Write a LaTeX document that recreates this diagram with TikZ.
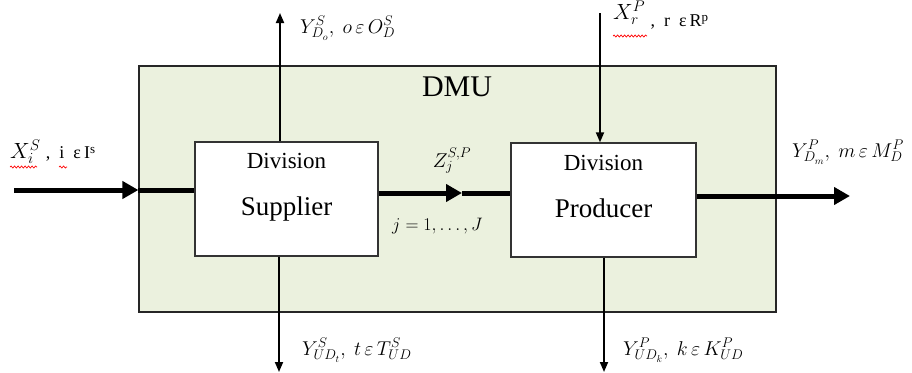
\RequirePackage{fix-cm}
\documentclass[tikz,border=0pt]{standalone}
\usepackage{fontspec}
\setmainfont{Liberation Serif}
\usetikzlibrary{arrows.meta,decorations.pathmorphing}
\definecolor{dmugreen}{HTML}{EBF1DE}
\newcommand{\supsm}[1]{\raisebox{5pt}{\fontsize{13}{14}\selectfont #1}}
\begin{document}
\begin{tikzpicture}[x=1pt,y=-1pt,
  thickarrow/.style={line width=5pt,-{Triangle[length=16pt,width=17pt]}},
  thickline/.style={line width=5pt},
  thinarrow/.style={line width=1.8pt,-{Triangle[length=10pt,width=8pt]}},
  divbox/.style={draw=black!80,line width=1.3pt,fill=white,minimum width=183pt,minimum height=114pt,inner sep=0pt},
  lab/.style={inner sep=0pt,anchor=base west,font=\fontsize{20}{24}\selectfont},
  xlab/.style={inner sep=0pt,anchor=base west,font=\fontsize{22}{26}\selectfont},
  squig/.style={red,line width=0.7pt,decorate,decoration={snake,amplitude=1pt,segment length=3.5pt}}
]
\useasboundingbox (0,0) rectangle (912,372);

\node[fill=dmugreen,draw=black!85,line width=1.2pt,minimum width=637pt,minimum height=246pt,inner sep=0pt] (dmu) at (457.5,189) {};
\node[anchor=base,inner sep=0pt,font=\fontsize{30}{34}\selectfont] (dmul) at (457,96) {DMU};

\node[divbox] (sup) at (286.5,199) {};
\node[divbox,minimum width=185pt] (prod) at (603.5,200) {};
\node[anchor=base,inner sep=0pt,font=\fontsize{23}{26}\selectfont] (supdiv) at (286.5,168) {Division};
\node[anchor=base,inner sep=0pt,font=\fontsize{27}{30}\selectfont] (supname) at (286.5,215) {Supplier};
\node[anchor=base,inner sep=0pt,font=\fontsize{23}{26}\selectfont] (proddiv) at (603.5,170) {Division};
\node[anchor=base,inner sep=0pt,font=\fontsize{27}{30}\selectfont] (prodname) at (603.5,217) {Producer};

% horizontal flows
\coordinate (xin) at (14,190);
\draw[thickarrow] (xin) -- (dmu.west |- xin);
\draw[thickline] (dmu.west |- xin) -- (sup.west |- xin);
\coordinate (zm) at (462,193);
\draw[thickarrow] (sup.east |- zm) -- (zm);
\draw[thickline] (zm) -- (prod.west |- zm);
\coordinate (yout) at (850,196);
\draw[thickarrow] (prod.east |- yout) -- (yout);

% vertical flows
\coordinate (yotop) at (280,13);
\draw[thinarrow] (sup.north -| yotop) -- (yotop);
\coordinate (xrtop) at (600,13);
\draw[thinarrow] (xrtop) -- (prod.north -| xrtop);
\coordinate (utbot) at (279,372);
\draw[thinarrow] (sup.south -| utbot) -- (utbot);
\coordinate (ukbot) at (604,372);
\draw[thinarrow] (prod.south -| ukbot) -- (ukbot);

% labels
\node[xlab] (lxi) at (10,158) {$X_i^S$\ {\fontsize{18}{20}\selectfont,\ \ i\ \ ε\,I\supsm{s}}};
\node[lab] (lyo) at (300,33) {$Y^S_{D_o},\ o\,\varepsilon\, O^S_D$};
\node[xlab] (lxr) at (613,26) {\raisebox{7pt}{$X_r^P$}\ {\fontsize{18}{20}\selectfont,\ \ r\ \ ε\,R\supsm{p}}};
\node[lab] (lym) at (792,157) {$Y^P_{D_m},\ m\,\varepsilon\, M^P_D$};
\node[lab,anchor=base] (lz) at (452,167) {$Z_j^{S,P}$};
\node[lab,font=\fontsize{18}{22}\selectfont] (lj) at (392,230) {$j=1,\ldots,J$};
\node[lab] (lyt) at (302,355) {$Y^S_{UD_t},\ t\,\varepsilon\, T^S_{UD}$};
\node[lab] (lyk) at (623,355) {$Y^P_{UD_k},\ k\,\varepsilon\, K^P_{UD}$};

% spell-check underlines
\draw[squig] (10,167) -- (37,167);
\draw[squig] (59,167) -- (67,167);
\draw[squig] (613,36) -- (647,36);
\end{tikzpicture}
\end{document}
